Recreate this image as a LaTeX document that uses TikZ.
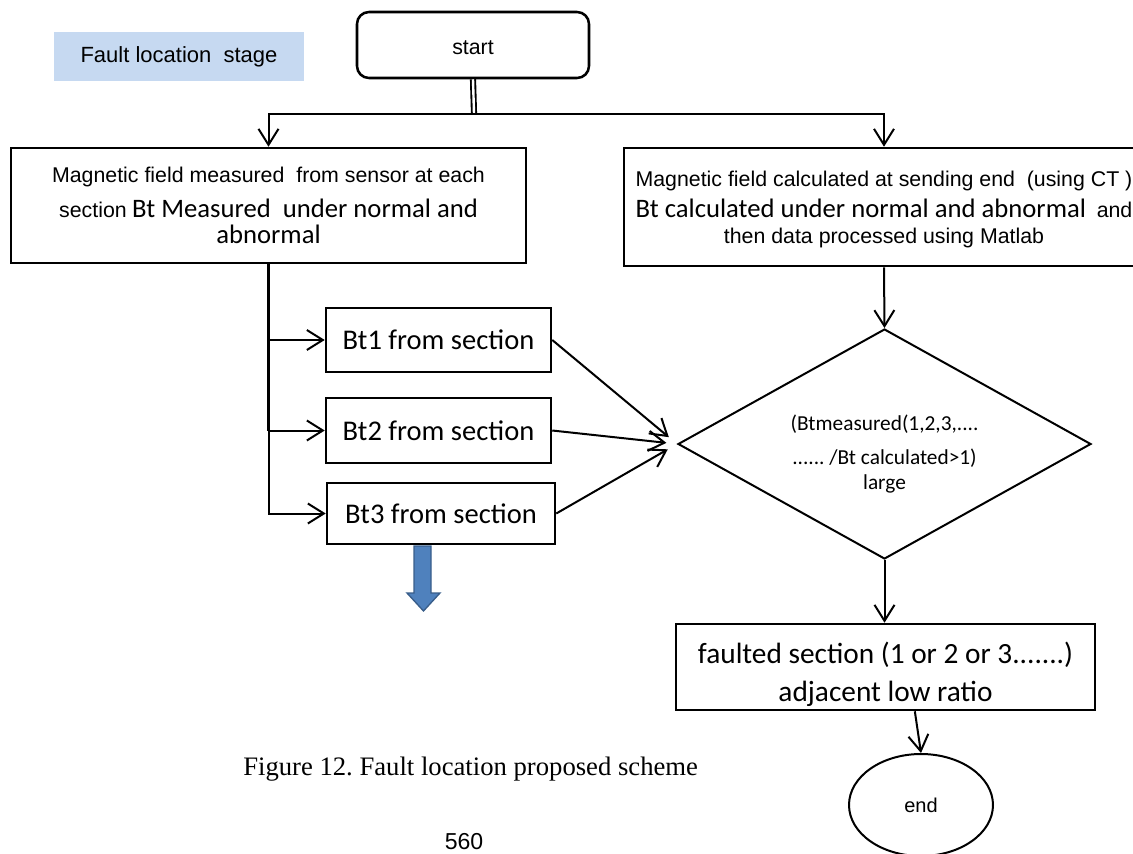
\documentclass[tikz,border=0pt]{standalone}
\usepackage{fontspec}
\setmainfont{Liberation Serif}
\newfontfamily\arial{Liberation Sans}
\newfontfamily\calib{Carlito}
\usetikzlibrary{arrows.meta,shapes.geometric}
\definecolor{stageblue}{RGB}{198,217,241}
\definecolor{arrowfill}{RGB}{79,129,189}
\definecolor{arrowline}{RGB}{56,93,138}
\newcommand{\ar}[1]{{\arial\fontsize{16}{20}\selectfont #1}}
\newcommand{\cb}[1]{{\calib\fontsize{20}{20}\selectfont #1}}
\begin{document}
\frenchspacing
\begin{tikzpicture}[x=0.75pt,y=-0.75pt,
  box/.style={draw, line width=1.9pt, inner sep=0pt, align=center},
  conn/.style={line width=1.5pt, -{Straight Barb[length=12pt,width=15pt,line width=1.5pt]}},
  btbox/.style={box, font=\calib\fontsize{21.4}{24}\selectfont},
]
\useasboundingbox (0,0) rectangle (1133,854);

\node[fill=stageblue, minimum width=250*0.75pt, minimum height=49*0.75pt, inner sep=0pt,
      font=\arial\fontsize{16.5}{20}\selectfont] (stage) at (179,56.5) {Fault location~~stage};

\node[box, rounded corners=9pt, minimum width=232*0.75pt, minimum height=66*0.75pt,
      font=\arial\fontsize{16}{20}\selectfont] (start) at (473,45) {\rule{0pt}{14pt}start};
\coordinate (split) at (474,113.5);

\node[box, minimum width=515*0.75pt, minimum height=115*0.75pt, font=\fontsize{16}{20}\selectfont] (lb) at (268.5,205.5)
  {\ar{Magnetic field measured~~from sensor at each}\\[6.25pt]\ar{section} \cb{Bt Measured~~under normal and}\\\cb{abnormal}};

\node[box, minimum width=520*0.75pt, minimum height=118*0.75pt, font=\fontsize{16}{20}\selectfont] (rb) at (884,207)
  {\rule{0pt}{16pt}\ar{Magnetic field calculated at sending end~~(using CT )}\\[3.25pt]\cb{Bt calculated under normal and abnormal}~~\ar{and}\\[-0.5pt]\ar{then data processed using Matlab}};

\node[btbox, minimum width=225*0.75pt, minimum height=64*0.75pt] (b1) at (438.5,340) {Bt1 from section};
\node[btbox, minimum width=225*0.75pt, minimum height=65*0.75pt] (b2) at (438.5,430.5) {Bt2 from section};
\node[btbox, minimum width=228*0.75pt, minimum height=61*0.75pt] (b3) at (441,513.5) {Bt3 from section};

\node[diamond, aspect=1.8, draw, line width=1.5pt, minimum width=413*0.75pt, minimum height=230*0.75pt, inner sep=0pt,
      align=center, font=\calib\fontsize{16}{20}\selectfont] (dia) at (884.5,444)
  {\rule{0pt}{27pt}(Btmeasured(1,2,3,....\\[5.5pt]...... /Bt calculated>1)\\[-1.25pt]large};

\node[box, minimum width=419*0.75pt, minimum height=86*0.75pt, font=\calib\fontsize{22}{28}\selectfont] (fb) at (885.5,667)
  {\rule{0pt}{27pt}faulted section (1 or 2 or 3.......)\\adjacent low ratio};

\node[ellipse, draw, line width=1.5pt, minimum width=144*0.75pt, minimum height=102*0.75pt, inner sep=0pt,
      font=\arial\fontsize{15}{18}\selectfont] (end) at (921,805) {end};

% connectors
\draw[double, double distance=1.8pt, line width=1.4pt] (start.south) -- (split);
\draw[conn] (split) -| (lb.north);
\draw[conn] (split) -| (rb.north);

\draw[line width=2.6pt] (lb.south) -- (lb.south |- b2.west);
\draw[conn] (lb.south) |- (b3.west);
\draw[conn] (lb.south |- b1.west) -- (b1.west);
\draw[conn] (lb.south |- b2.west) -- (b2.west);

\draw[conn, shorten >=8pt] (b1.east) -- (dia.west);
\draw[conn, shorten >=8pt] (b2.east) -- (dia.west);
\draw[conn, shorten >=8pt] (b3.east) -- (dia.west);

\draw[conn] (rb.south) -- (dia.north);
\draw[conn] (dia.south) -- (dia.south |- fb.north);
\draw[conn] ([xshift=22pt]fb.south) -- (end.north);

% block arrow
\draw[fill=arrowfill, draw=arrowline, line width=1pt]
  (414,546) -- (431,546) -- (431,593) -- (440,593) -- (423.5,611) -- (407,593) -- (414,593) -- cycle;

\node[anchor=base west, inner sep=0pt, font=\fontsize{20}{24}\selectfont] (cap) at (243,775) {Figure 12. Fault location proposed scheme};
\node[anchor=base, inner sep=0pt, font=\arial\fontsize{17.3}{20}\selectfont] (pg) at (464,849) {560};
\end{tikzpicture}
\end{document}
